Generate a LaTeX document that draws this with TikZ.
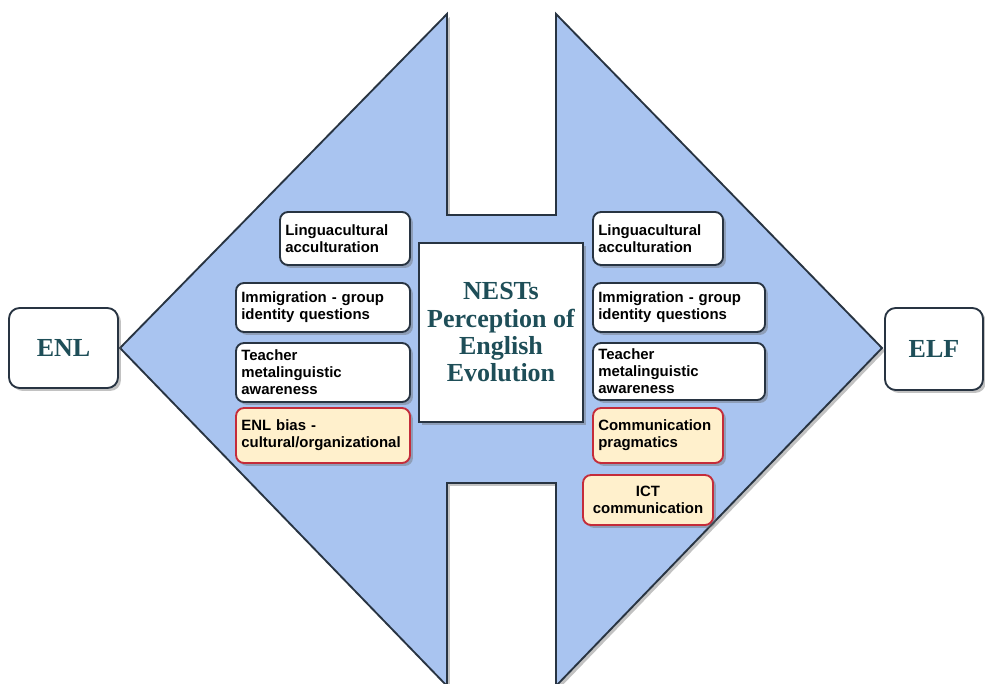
\documentclass[tikz,border=0pt]{standalone}
\usepackage{fontspec}
\setmainfont{Liberation Serif}
\setsansfont{Liberation Sans}
\usetikzlibrary{shadows}

\definecolor{arrowblue}{RGB}{169,196,240}
\definecolor{edgedark}{RGB}{40,52,66}
\definecolor{titleteal}{RGB}{30,78,88}
\definecolor{notefill}{RGB}{255,240,204}
\definecolor{notered}{RGB}{196,44,58}

\tikzset{every picture/.style={line width=0.75pt}}
\tikzset{
  softshadow/.style={drop shadow={shadow xshift=2.2pt,shadow yshift=-2.2pt,opacity=0.4,fill=black!60}},
  itembox/.style={draw=edgedark,line width=1.4pt,fill=white,rounded corners=6pt,softshadow,
    font=\sffamily\bfseries\fontsize{11.2}{12.8}\selectfont,align=left,inner xsep=4pt,inner ysep=0pt},
  notebox/.style={itembox,draw=notered,fill=notefill},
  endbox/.style={draw=edgedark,line width=1.4pt,fill=white,rounded corners=8pt,softshadow,
    font=\bfseries\fontsize{19.5}{21}\selectfont,text=titleteal,align=center},
  corebox/.style={draw=edgedark,line width=1.4pt,fill=white,softshadow,
    font=\bfseries\fontsize{19.5}{20.5}\selectfont,text=titleteal,align=center}
}

\begin{document}
\begin{tikzpicture}[x=0.75pt,y=0.75pt,yscale=-1,xscale=1]
	\useasboundingbox (0,0) rectangle (985,684);

	%Shape: Double arrow with notches
	\draw [draw=edgedark,line width=1.4pt,fill=arrowblue,softshadow] (120,348) -- (447,14) -- (447,215) -- (556,215) -- (556,14) -- (882,348) -- (556,686) -- (556,483) -- (447,483) -- (447,686) -- cycle ;

	% Text Node
	\draw (63.5,348) node [endbox,minimum width=81.75pt,minimum height=60pt] (enl) {ENL};
	% Text Node
	\draw (934,349) node [endbox,minimum width=73.5pt,minimum height=61.5pt] (elf) {ELF};
	% Text Node
	\draw (501,332.5) node [corebox,minimum width=123pt,minimum height=134.25pt] (nests) {NESTs\\Perception of\\English\\Evolution};

	% Text Node
	\draw (345,238.5) node [itembox,text width=89.5pt,minimum height=39.75pt] (lingL) {Linguacultural\\acculturation};
	% Text Node
	\draw (323,307.5) node [itembox,text width=122.5pt,minimum height=36.75pt] (immL) {Immigration - group\\identity questions};
	% Text Node
	\draw (323,372.5) node [itembox,text width=122.5pt,minimum height=44.25pt] (teachL) {Teacher\\metalinguistic\\awareness};
	% Text Node
	\draw (323,435.5) node [notebox,text width=122.5pt,minimum height=41.25pt] (biasL) {ENL bias -\\cultural/organizational};

	% Text Node
	\draw (658,238.5) node [itembox,text width=89.5pt,minimum height=39.75pt] (lingR) {Linguacultural\\acculturation};
	% Text Node
	\draw (679,307.5) node [itembox,text width=121pt,minimum height=36.75pt] (immR) {Immigration - group\\identity questions};
	% Text Node
	\draw (679,371.5) node [itembox,text width=121pt,minimum height=42.75pt] (teachR) {Teacher\\metalinguistic\\awareness};
	% Text Node
	\draw (658,435.5) node [notebox,text width=89.5pt,minimum height=41.25pt] (commR) {Communication\\pragmatics};
	% Text Node
	\draw (648,500) node [notebox,text width=89.5pt,minimum height=37.5pt,align=center] (ictR) {ICT\\communication};

\end{tikzpicture}
\end{document}
